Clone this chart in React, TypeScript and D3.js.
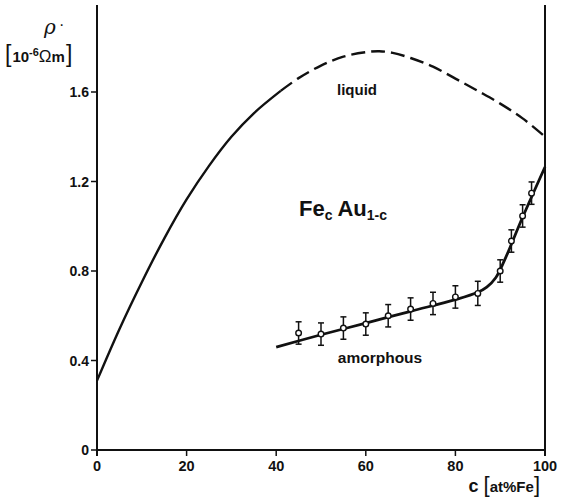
import React from "react";
import * as d3 from "d3";

const liquidSolid: [number, number][] = [
  [0, 0.31], [5, 0.54], [10, 0.75], [15, 0.945], [20, 1.12], [25, 1.27],
  [30, 1.4], [35, 1.505], [41, 1.605],
];
const liquidDashed: [number, number][] = [
  [41, 1.605], [45, 1.662], [50, 1.718], [55, 1.758], [60, 1.778], [63, 1.782],
  [66, 1.775], [70, 1.752], [75, 1.713], [80, 1.66], [85, 1.605], [90, 1.548],
  [95, 1.482], [100, 1.4],
];
const amorphousLine: [number, number][] = [
  [40, 0.46], [50, 0.515], [60, 0.567], [70, 0.62], [80, 0.672], [85, 0.705],
  [87, 0.728], [89, 0.77], [91, 0.85], [95, 1.04], [100, 1.265],
];
const pointC = [45, 50, 55, 60, 65, 70, 75, 80, 85, 90, 92.5, 95, 97];
const pointRho = [0.523, 0.518, 0.545, 0.563, 0.6, 0.63, 0.655, 0.684, 0.7, 0.8, 0.934, 1.046, 1.148];
const pointErr = [0.05, 0.05, 0.05, 0.05, 0.05, 0.05, 0.05, 0.05, 0.054, 0.05, 0.05, 0.05, 0.05];
const xTicks = [0, 20, 40, 60, 80, 100];
const yTicks = [0, 0.4, 0.8, 1.2, 1.6];
const yTickLabels = ["0", "0.4", "0.8", "1.2", "1.6"];

export default function App() {
  const x = d3.scaleLinear().domain([0, 100]).range([97, 545]);
  const y = d3.scaleLinear().domain([0, 1.6]).range([450, 92]);
  const line = d3
    .line<[number, number]>()
    .x((d) => x(d[0]))
    .y((d) => y(d[1]))
    .curve(d3.curveCatmullRom.alpha(0.5));
  const font = "'Liberation Sans', Arial, sans-serif";
  const ink = "#111";
  return (
    <div style={{ position: "fixed", left: 0, top: 0 }}>
      <svg width={563} height={500} style={{ display: "block", background: "#fff" }}>
        {/* axes */}
        <line x1={x(0)} x2={x(0)} y1={5} y2={y(0) + 6} stroke={ink} strokeWidth={2} />
        <line x1={x(0)} x2={x(100)} y1={y(0)} y2={y(0)} stroke={ink} strokeWidth={2.2} />
        <line x1={x(100)} x2={x(100)} y1={5} y2={y(0) + 6} stroke={ink} strokeWidth={2} />
        {yTicks.map((t, i) => (
          <g key={"y" + i}>
            <line x1={x(0) - 6} x2={x(0)} y1={y(t)} y2={y(t)} stroke={ink} strokeWidth={1.5} />
            <text x={x(0) - 8} y={y(t)} dy="0.36em" textAnchor="end" fontFamily={font} fontWeight="bold" fontSize={14} fill={ink}>
              {yTickLabels[i]}
            </text>
          </g>
        ))}
        {xTicks.map((t) => (
          <g key={"x" + t}>
            <line x1={x(t)} x2={x(t)} y1={y(0)} y2={y(0) + 6} stroke={ink} strokeWidth={1.5} />
            <text x={x(t)} y={y(0) + 21} textAnchor="middle" fontFamily={font} fontWeight="bold" fontSize={14.5} fill={ink}>
              {t}
            </text>
          </g>
        ))}
        {/* axis labels */}
        <text x={44} y={34} fontFamily="'DejaVu Serif', serif" fontStyle="italic" fontSize={20} fill={ink}>
          ρ
        </text>
        <text x={59} y={30} fontFamily={font} fontSize={16} fill={ink}>·</text>
        <text x={5} y={62} fontFamily={font} fill={ink}>
          <tspan fontSize={23} fontWeight="normal">[</tspan>
          <tspan fontSize={15} fontWeight="bold" dx={1}>10</tspan>
          <tspan fontSize={11} fontWeight="bold" dy={-6}>-6</tspan>
          <tspan fontSize={17} dy={6}>Ω</tspan>
          <tspan fontSize={15} fontWeight="bold">m</tspan>
          <tspan fontSize={23} fontWeight="normal" dx={1}>]</tspan>
        </text>
        <text x={540} y={492} textAnchor="end" fontFamily={font} fill={ink}>
          <tspan fontSize={18} fontWeight="bold">c </tspan>
          <tspan fontSize={22}>[</tspan>
          <tspan fontSize={15} fontWeight="bold">at%Fe</tspan>
          <tspan fontSize={22}>]</tspan>
        </text>
        {/* curves */}
        <path d={line(liquidSolid) ?? ""} fill="none" stroke={ink} strokeWidth={2.4} />
        <path d={line(liquidDashed) ?? ""} fill="none" stroke={ink} strokeWidth={2.4} strokeDasharray="14 6" />
        <path d={line(amorphousLine) ?? ""} fill="none" stroke={ink} strokeWidth={2.8} />
        {/* data points */}
        {pointC.map((c, i) => {
          const cx = x(c);
          const cy = y(pointRho[i]);
          const top = y(pointRho[i] + pointErr[i]);
          const bot = y(pointRho[i] - pointErr[i]);
          return (
            <g key={"p" + i}>
              <line x1={cx} x2={cx} y1={top} y2={bot} stroke={ink} strokeWidth={1.5} />
              <line x1={cx - 3} x2={cx + 3} y1={top} y2={top} stroke={ink} strokeWidth={1.5} />
              <line x1={cx - 3} x2={cx + 3} y1={bot} y2={bot} stroke={ink} strokeWidth={1.5} />
              <circle cx={cx} cy={cy} r={2.8} fill="#fff" stroke={ink} strokeWidth={1.4} />
            </g>
          );
        })}
        {/* annotations */}
        <text x={357} y={95} textAnchor="middle" fontFamily={font} fontWeight="bold" fontSize={15} fill={ink}>
          liquid
        </text>
        <text x={299} y={216} fontFamily={font} fontWeight="bold" fill={ink}>
          <tspan fontSize={22}>Fe</tspan>
          <tspan fontSize={14} dy={4}>c</tspan>
          <tspan fontSize={22} dy={-4} dx={5}>Au</tspan>
          <tspan fontSize={14} dy={4}>1-c</tspan>
        </text>
        <text x={380} y={363} textAnchor="middle" fontFamily={font} fontWeight="bold" fontSize={15.5} fill={ink}>
          amorphous
        </text>
      </svg>
    </div>
  );
}
